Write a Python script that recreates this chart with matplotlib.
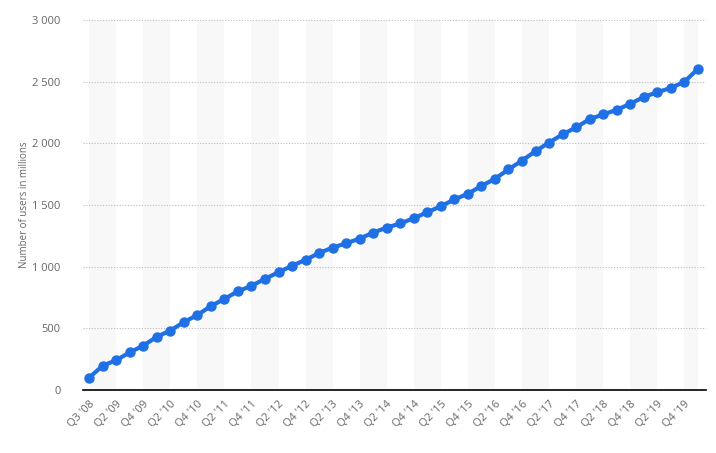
import numpy as np
import matplotlib.pyplot as plt
from matplotlib.ticker import FuncFormatter

plt.rcParams['font.family'] = ['Open Sans', 'DejaVu Sans']

quarters = ["Q3 '08", "Q1 '09", "Q2 '09", "Q3 '09", "Q4 '09",
            "Q1 '10", "Q2 '10", "Q3 '10", "Q4 '10",
            "Q1 '11", "Q2 '11", "Q3 '11", "Q4 '11",
            "Q1 '12", "Q2 '12", "Q3 '12", "Q4 '12",
            "Q1 '13", "Q2 '13", "Q3 '13", "Q4 '13",
            "Q1 '14", "Q2 '14", "Q3 '14", "Q4 '14",
            "Q1 '15", "Q2 '15", "Q3 '15", "Q4 '15",
            "Q1 '16", "Q2 '16", "Q3 '16", "Q4 '16",
            "Q1 '17", "Q2 '17", "Q3 '17", "Q4 '17",
            "Q1 '18", "Q2 '18", "Q3 '18", "Q4 '18",
            "Q1 '19", "Q2 '19", "Q3 '19", "Q4 '19",
            "Q1 '20"]
users = [100, 197, 242, 305, 360,
         431, 482, 550, 608,
         680, 739, 800, 845,
         901, 955, 1007, 1056,
         1110, 1155, 1189, 1228,
         1276, 1317, 1350, 1393,
         1441, 1490, 1545, 1591,
         1654, 1712, 1788, 1860,
         1936, 2006, 2072, 2129,
         2196, 2234, 2271, 2320,
         2375, 2414, 2449, 2498,
         2603]
y_ticks = [0, 500, 1000, 1500, 2000, 2500, 3000]

x = np.arange(len(quarters))
n = len(quarters) - 1

fig = plt.figure(figsize=(7.16, 4.53), dpi=100)
ax = fig.add_axes([0.116, 0.139, 0.870, 0.817])

# alternating column bands
for start in range(0, n, 4):
    ax.axvspan(start, min(start + 2, n), color='#f8f8f8', lw=0, zorder=0)

ax.plot(x, users, color='#1f6fe5', lw=3, marker='o', ms=6.5, zorder=3,
        solid_capstyle='round')

ax.set_xlim(-0.45, n + 0.6)
ax.set_ylim(0, 3000)
ax.set_yticks(y_ticks)
ax.yaxis.set_major_formatter(FuncFormatter(lambda v, p: f'{int(v):,}'.replace(',', ' ')))
ax.grid(axis='y', color='#bbbbbb', ls=(0, (1, 1.5)), lw=0.8, zorder=1)
ax.set_axisbelow(True)

ax.set_xticks(x[::2])
ax.set_xticklabels(quarters[::2], rotation=45, ha='right', rotation_mode='anchor')
ax.tick_params(axis='x', length=0, pad=6, labelsize=8, labelcolor='#666666')
ax.tick_params(axis='y', length=0, pad=16, labelsize=8, labelcolor='#666666')

for s in ['top', 'right', 'left']:
    ax.spines[s].set_visible(False)
ax.spines['bottom'].set_color('#000000')
ax.spines['bottom'].set_linewidth(1.2)

ax.set_ylabel('Number of users in millions', fontsize=7, color='#666666', labelpad=2)

plt.savefig('out.png', dpi=100)
